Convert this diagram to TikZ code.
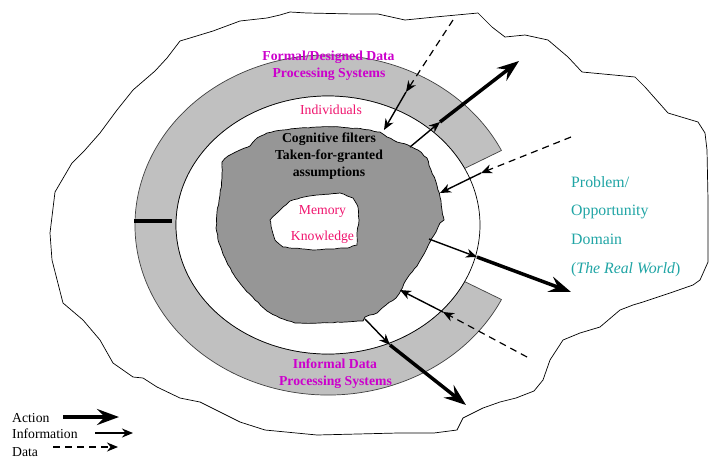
\documentclass[tikz,border=0pt]{standalone}
\usepackage{fontspec}
\setmainfont{Liberation Serif}
\usetikzlibrary{arrows.meta,decorations.pathmorphing}
\definecolor{ringgray}{RGB}{192,192,192}
\definecolor{blobgray}{RGB}{150,150,150}
\definecolor{magc}{RGB}{204,0,204}
\definecolor{pinkc}{RGB}{240,20,110}
\definecolor{tealc}{RGB}{32,165,165}
\begin{document}
\begin{tikzpicture}[x=1pt,y=-1pt,
  actionarr/.style={line width=3.5pt,-{Stealth[length=22pt,width=16pt,inset=8pt]}},
  infoarr/.style={line width=1.4pt,-{Stealth[length=11pt,width=9pt,inset=3.5pt]}},
  dataarr/.style={line width=1.2pt,dash pattern=on 7pt off 5pt,-{Stealth[length=11pt,width=9pt,inset=3.5pt]}},
  txt/.style={inner sep=0pt,anchor=base,font=\fontsize{13.7}{17}\selectfont},
  btxt/.style={inner sep=0pt,anchor=base,font=\fontsize{13.7}{17}\selectfont\bfseries},
  ttxt/.style={inner sep=0pt,anchor=base west,text=tealc,font=\fontsize{15.8}{19}\selectfont},
  ltxt/.style={inner sep=0pt,anchor=base west,font=\fontsize{13.7}{17}\selectfont},
]
\pgfmathsetseed{7}
\useasboundingbox (0,0) rectangle (710,459);
\fill[white] (0,0) rectangle (710,459);

% outer cloud (problem domain)
\draw[line width=0.7pt, fill=white]
 (180,41) -- (190,38) -- (213,31) -- (240,21) -- (267,18) -- (280,15) -- (290,12) -- (307,13)
 -- (355,14) -- (378,14) -- (405,20) -- (435,17) -- (478,13) -- (492,27) -- (505,37) -- (525,35)
 -- (548,40) -- (568,57) -- (582,72) -- (635,77) -- (645,87) -- (668,113) -- (698,122) -- (705,133)
 -- (707,150) -- (708,200) -- (708,262) -- (700,280) -- (693,285) -- (670,293) -- (643,302) -- (633,305)
 -- (620,310) -- (600,327) -- (580,333) -- (563,340) -- (550,360) -- (543,380) -- (534,391) -- (516,398)
 -- (500,402) -- (483,408) -- (463,418) -- (457,430) -- (434,433) -- (398,433) -- (317,435) -- (265,430)
 -- (240,422) -- (220,412) -- (200,402) -- (180,398) -- (157,387) -- (143,378) -- (133,377) -- (113,363)
 -- (100,340) -- (83,320) -- (63,303) -- (52,260) -- (50,233) -- (55,192) -- (72,163) -- (85,150)
 -- (100,133) -- (117,110) -- (133,90) -- (155,71) -- (167,58) -- cycle;

% ring
\coordinate (C) at (328,225);
\draw[line width=0.7pt, draw=black!75, fill=ringgray]
 ([shift={(26:193pt and 170pt)}]C) arc[start angle=26,end angle=334,x radius=193pt,y radius=170pt]
 -- ([shift={(334:152pt and 129pt)}]C) arc[start angle=334,end angle=26,x radius=152pt,y radius=129pt]
 -- cycle;
\draw[line width=0.7pt, fill=white] (C) ellipse [x radius=152pt, y radius=129pt];
\draw[line width=4pt] (134,221) -- (172,221);

% cognitive blob
\draw[line width=0.7pt, fill=blobgray, decorate, decoration={random steps,segment length=4pt,amplitude=0.45pt}]
 (257,138) -- (267,133) -- (283,130) -- (300,128) -- (320,127) -- (340,127) -- (362,129) -- (380,132)
 -- (387,137) -- (397,142) -- (408,145) -- (418,150) -- (427,158) -- (431,170) -- (436,182) -- (440,197)
 -- (442,210) -- (444,220) -- (440,223) -- (436,232) -- (430,242) -- (424,254) -- (417,266) -- (408,277)
 -- (401,290) -- (396,298) -- (386,305) -- (377,313) -- (365,317) -- (363,321) -- (345,322) -- (320,323)
 -- (295,323) -- (280,318) -- (267,311) -- (255,300) -- (243,287) -- (232,272) -- (225,258) -- (219,243)
 -- (216,228) -- (217,212) -- (220,195) -- (222,178) -- (222,162) -- (228,156) -- (240,150) -- (250,146)
 -- cycle;

% memory region
\draw[line width=0.7pt, fill=white, decorate, decoration={random steps,segment length=4pt,amplitude=0.35pt}]
 (283,207) -- (290,201) -- (300,198) -- (317,195) -- (340,193) -- (353,198) -- (358,207) -- (359,220)
 -- (357,233) -- (357,245) -- (347,248) -- (313,250) -- (283,247) -- (275,240) -- (272,230) -- (270,220)
 -- (277,213) -- cycle;

% texts
\node[btxt,text=magc] (f1) at (328.5,60) {Formal/Designed Data};
\node[btxt,text=magc] (f2) at (329,77) {Processing Systems};
\node[txt,text=pinkc] (ind) at (331,114.5) {Individuals};
\node[btxt] (c1) at (329,142.5) {Cognitive filters};
\node[btxt] (c2) at (329,159.5) {Taken-for-granted};
\node[btxt] (c3) at (329,176.5) {assumptions};
\node[txt,text=pinkc] (m1) at (322.5,214.5) {Memory};
\node[txt,text=pinkc] (m2) at (322.5,240) {Knowledge};
\node[btxt,text=magc] (i1) at (335,368.5) {Informal Data};
\node[btxt,text=magc] (i2) at (335.5,385.5) {Processing Systems};
\node[ttxt] (p1) at (571,187.5) {Problem/};
\node[ttxt] (p2) at (571,215.5) {Opportunity};
\node[ttxt] (p3) at (571,244.5) {Domain};
\node[ttxt] (p4) at (571,273.5) {(\textit{The Real World})};

% junction coordinates
\coordinate (d1) at (453,20);   \coordinate (j1) at (406,92);   \coordinate (b1) at (384,130);
\coordinate (b2) at (410,147);  \coordinate (j2) at (440,122);  \coordinate (a1) at (519,61);
\coordinate (d3) at (571,137);  \coordinate (j3) at (481,173);  \coordinate (b3) at (440,193);
\coordinate (b4) at (429,239);  \coordinate (j4) at (477,257);  \coordinate (a2) at (571,292);
\coordinate (d5) at (527,357);  \coordinate (j5) at (443,312);  \coordinate (b5) at (400,290);
\coordinate (b6) at (365,319);  \coordinate (j6) at (390,345);  \coordinate (a3) at (466,405);

\draw[dataarr] (d1) -- (j1);
\draw[infoarr] (j1) -- (b1);
\draw[infoarr] (b2) -- (j2);
\draw[actionarr] (j2) -- (a1);
\draw[dataarr] (d3) -- (j3);
\draw[infoarr] (j3) -- (b3);
\draw[infoarr] (b4) -- (j4);
\draw[actionarr] (j4) -- (a2);
\draw[dataarr] (d5) -- (j5);
\draw[infoarr] (j5) -- (b5);
\draw[infoarr] (b6) -- (j6);
\draw[actionarr] (j6) -- (a3);

% legend
\node[ltxt] (la) at (12,422) {Action};
\node[ltxt] (li) at (12,438.5) {Information};
\node[ltxt] (ld) at (12,456) {Data};
\coordinate (la1) at (63,417);  \coordinate (la2) at (119,417);
\coordinate (li1) at (95,433);  \coordinate (li2) at (133,433);
\coordinate (ld1) at (53,447);  \coordinate (ld2) at (118,447);
\draw[actionarr] (la1) -- (la2);
\draw[infoarr] (li1) -- (li2);
\draw[dataarr] (ld1) -- (ld2);
\end{tikzpicture}
\end{document}
